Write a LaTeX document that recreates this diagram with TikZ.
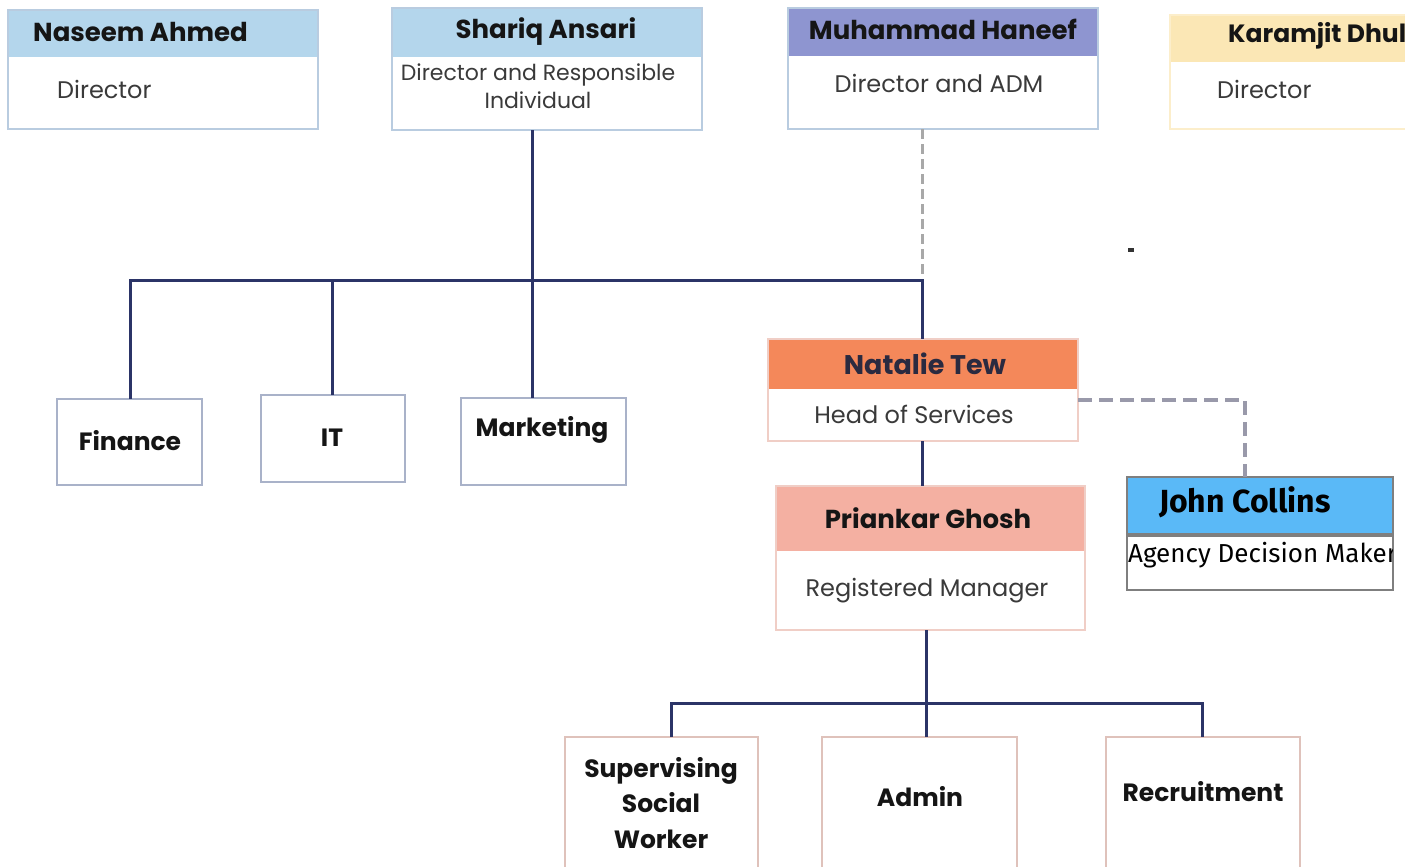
\documentclass[tikz,border=0pt]{standalone}
\usepackage{fontspec}
\setmainfont{Poppins}
\newfontfamily\jcfont{Fira Sans}
\usetikzlibrary{calc}
\definecolor{navy}{HTML}{2B3467}
\definecolor{hblue}{HTML}{B4D6EC}
\definecolor{hpurple}{HTML}{8E95D0}
\definecolor{hyellow}{HTML}{FBE7B5}
\definecolor{horange}{HTML}{F4885A}
\definecolor{hsalmon}{HTML}{F4B0A2}
\definecolor{hjohn}{HTML}{5AB9F7}
\definecolor{bdblue}{HTML}{B9CCE0}
\definecolor{bdpink}{HTML}{F0CEC6}
\definecolor{bddept}{HTML}{A9B2C9}
\definecolor{bdgray}{HTML}{7F7F7F}
\definecolor{titlec}{HTML}{151515}
\definecolor{subc}{HTML}{3A3A3A}
\definecolor{dashA}{HTML}{A8A8A8}
\definecolor{dashB}{HTML}{9999AA}
\definecolor{nattitle}{HTML}{2A2A40}
\tikzset{
  card/.style n args={3}{draw=#1, fill=white, line width=1.5pt, inner sep=0pt, outer sep=0pt,
    anchor=north west,
    path picture={\fill[#2] (path picture bounding box.north west) rectangle ([yshift=-#3]path picture bounding box.north east);}},
  dept/.style={draw=#1, fill=white, line width=1.5pt, inner sep=0pt, outer sep=0pt, anchor=north west},
  conn/.style={draw=navy, line width=3pt},
  dashone/.style={draw=dashA, line width=3pt, dash pattern=on 10pt off 5pt},
  dashtwo/.style={draw=dashB, line width=4.5pt, dash pattern=on 14pt off 7pt},
  ttl/.style={font=\fontsize{26}{30}\selectfont\bfseries, text=titlec, inner sep=0pt},
  sub/.style={font=\fontsize{24}{28}\selectfont, text=subc, inner sep=0pt, align=center},
  dtxt/.style={font=\fontsize{25}{35.5}\selectfont\bfseries, text=titlec, inner sep=0pt, align=center},
}
\begin{document}
\begin{tikzpicture}[x=1pt,y=-1pt]
\useasboundingbox (0,0) rectangle (1405,867);
\clip (0,0) rectangle (1405,867);
\fill[white] (0,0) rectangle (1405,867);

% top cards
\node[card={bdblue}{hblue}{47pt}, minimum width=310pt, minimum height=119pt] (naseem) at (8,10) {};
\node[ttl, anchor=west] (naseemT) at (33,32) {Naseem Ahmed};
\node[sub, anchor=west] (naseemS) at (57,89) {Director};

\node[card={bdblue}{hblue}{49pt}, minimum width=310pt, minimum height=122pt] (shariq) at (392,8) {};
\node[ttl] (shariqT) at (546,32) {Shariq Ansari};
\node[sub, font=\fontsize{22}{28}\selectfont] (shariqS) at (538,86) {Director and Responsible\\Individual};

\node[card={bdblue}{hpurple}{48pt}, minimum width=310pt, minimum height=121pt] (haneef) at (788,8) {};
\node[ttl] (haneefT) at (943,29) {Muhammad Haneef};
\node[sub] (haneefS) at (939,83) {Director and ADM};

\node[card={hyellow!70!white}{hyellow}{47pt}, minimum width=300pt, minimum height=114pt] (karam) at (1170,15) {};
\node[ttl, font=\fontsize{25}{30}\selectfont\bfseries, anchor=west] (karamT) at (1228,36) {Karamjit Dhul};
\node[sub, anchor=west] (karamS) at (1217,89) {Director};

% departments
\node[dept=bddept, minimum width=145pt, minimum height=86pt] (finance) at (57,399) {};
\node[dtxt] (financeT) at (130,441) {Finance};
\node[dept=bddept, minimum width=144pt, minimum height=87pt] (it) at (261,395) {};
\node[dtxt] (itT) at (332,438) {IT};
\node[dept=bddept, minimum width=165pt, minimum height=87pt] (marketing) at (461,398) {};
\node[dtxt] (marketingT) at (542,430) {Marketing};

% Natalie
\node[card={bdpink}{horange}{50pt}, minimum width=310pt, minimum height=102pt] (natalie) at (768,339) {};
\node[font=\fontsize{27}{30}\selectfont\bfseries, text=nattitle, inner sep=0pt] (natalieT) at (925,364) {Natalie Tew};
\node[sub] (natalieS) at (914,414) {Head of Services};

% Priankar
\node[card={bdpink}{hsalmon}{65pt}, minimum width=309pt, minimum height=144pt] (priankar) at (776,486) {};
\node[ttl] (priankarT) at (928,518) {Priankar Ghosh};
\node[sub] (priankarS) at (927,591) {Registered Manager};

% John Collins
\node[card={bdgray}{hjohn}{57pt}, line width=2pt, minimum width=266pt, minimum height=113pt] (john) at (1127,477) {};
\draw[bdgray, line width=3.5pt] ($(john.north west)+(0,58)$) -- ($(john.north east)+(0,58)$);
\node[font=\jcfont\fontsize{32}{34}\selectfont\bfseries, text=black, inner sep=0pt] (johnT) at (1245,502) {John Collins};
\begin{scope}
\clip (1128,538) rectangle (1392,590);
\node[font=\jcfont\fontsize{26}{28}\selectfont, text=black, inner sep=0pt, anchor=west] (johnS) at (1128,555) {Agency Decision Maker};
\end{scope}

% bottom departments
\node[dept=bdpink!85!gray, minimum width=193pt, minimum height=140pt] (sup) at (565,737) {};
\node[dtxt] (supT) at (661,803) {Supervising\\Social\\Worker};
\node[dept=bdpink!85!gray, minimum width=195pt, minimum height=140pt] (admin) at (822,737) {};
\node[dtxt] (adminT) at (920,797) {Admin};
\node[dept=bdpink!85!gray, minimum width=194pt, minimum height=140pt] (rec) at (1106,737) {};
\node[dtxt] (recT) at (1203,792) {Recruitment};

% connectors
\coordinate (busS) at (532,280);
\coordinate (busE) at (922,280);
\coordinate (busI) at (332,280);
\coordinate (bus2) at (926,703);
\coordinate (j1) at (671,703);
\coordinate (j3) at (1202,703);
\coordinate (jc) at (1245,400);

\draw[dashone] (busE |- haneef.south) -- (busE);
\draw[conn] (busS |- shariq.south) -- (busS |- marketing.north);
\draw[conn, line join=miter] (finance.north -| 130,0) -- (130,280) -- (busE) -- (busE |- natalie.north);
\draw[conn] (busI) -- (busI |- it.north);
\draw[conn] (busE |- natalie.south) -- (busE |- priankar.north);
\draw[conn] (bus2 |- priankar.south) -- (bus2) -- (bus2 |- admin.north);
\draw[conn, line join=miter] (j1 |- sup.north) -- (j1) -- (j3) -- (j3 |- rec.north);
\draw[dashtwo] (natalie.east |- jc) -- (jc) -- (jc |- john.north);

% small mark
\fill[black!80] (1128,248) rectangle (1134,252);
\end{tikzpicture}
\end{document}
